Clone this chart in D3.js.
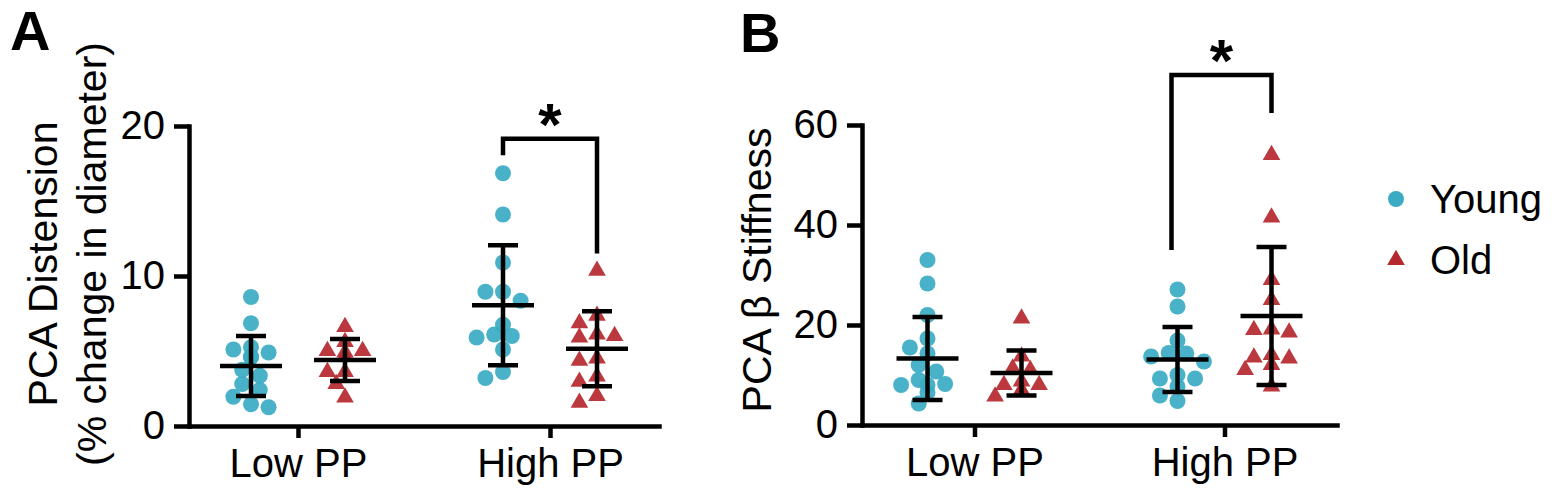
<!DOCTYPE html>
<html>
<head>
<meta charset="utf-8">
<script src="https://cdn.jsdelivr.net/npm/d3@7"></script>
<style>
  body { margin: 0; background: #fff; }
  text { font-family: "Liberation Sans", Arial, sans-serif; fill: #000; }
</style>
</head>
<body>
<div id="wrapper"></div>
<script>
// categories and groups
const categories = ["Low PP", "High PP"];
const groups = ["Young", "Old"];

// panel A: PCA distension (% change in diameter)
const distYoungLow = [8.6, 6.85, 5.25, 5.1, 4.9, 4.6, 4.6, 3.75, 3.35, 2.8, 2.4, 1.95, 1.45, 1.25];
const distOldLow = [6.6, 5.6, 5.0, 5.0, 4.9, 4.6, 3.6, 3.6, 2.8, 1.9];
const distYoungHigh = [16.85, 14.1, 10.9, 8.95, 8.95, 8.35, 6.75, 6.1, 6.0, 5.9, 5.1, 3.6, 3.2];
const distOldHigh = [10.35, 7.35, 6.85, 6.1, 6.0, 5.9, 4.5, 4.35, 3.3, 2.95, 2.0, 1.55];
const distMean = [4.0, 4.4, 8.05, 5.15];   // YL, OL, YH, OH
const distSD = [2.0, 1.4, 4.0, 2.5];
const distTicks = [0, 10, 20];

// panel B: PCA beta stiffness
const stiffYoungLow = [33, 28.3, 22, 17.3, 15.5, 14.3, 12, 10.7, 9, 8.2, 8, 8, 6.5, 4.3];
const stiffOldLow = [21.3, 13.7, 11.3, 11, 8.7, 8, 8, 7, 6.7, 5.7];
const stiffYoungHigh = [27.1, 23.7, 16.9, 14.4, 14.3, 13.7, 12.7, 10, 9.3, 9.3, 7.7, 5.9, 4.8];
const stiffOldHigh = [54, 41.5, 29, 25, 19.1, 19, 18.5, 14, 13.5, 13.3, 12, 11, 7.7];
const stiffMean = [13.3, 10.4, 13.1, 21.8];
const stiffSD = [8.3, 4.5, 6.5, 13.8];
const stiffTicks = [0, 20, 40, 60];

// significance brackets: [top, left end, right end]
const distBracket = [19.15, 18.05, 11.5];
const stiffBracket = [70, 35, 62.4];

const colors = {Young: "#3aabc3", Old: "#b5282e"};
const fontSize = 40;

const svg = d3.select("#wrapper").append("svg")
  .attr("width", 1552)
  .attr("height", 497);

const panels = [
  {
    letter: "A", letterX: 10, letterY: 50,
    xRange: [189, 659], padding: 0.4325,
    yDomain: [0, 20], yRange: [426, 126], ticks: distTicks,
    series: [distYoungLow, distOldLow, distYoungHigh, distOldHigh],
    mean: distMean, sd: distSD, bracket: distBracket, starY: 145, bracketShift: 0,
    labels: [{text: "PCA Distension", x: 57, y: 264}, {text: "(% change in diameter)", x: 106, y: 254}]
  },
  {
    letter: "B", letterX: 740, letterY: 52,
    xRange: [862, 1337], padding: 0.45,
    yDomain: [0, 60], yRange: [425, 125], ticks: stiffTicks,
    series: [stiffYoungLow, stiffOldLow, stiffYoungHigh, stiffOldHigh],
    mean: stiffMean, sd: stiffSD, bracket: stiffBracket, starY: 81, bracketShift: -6,
    labels: [{text: "PCA β Stiffness", x: 771, y: 270}]
  }
];

const r = 8;
const groupOffset = 47;

// simple beeswarm: returns x offsets for each value
function swarm(values, yScale) {
  const placed = [];
  const order = values.map((v, i) => ({v, i})).sort((a, b) => b.v - a.v);
  const out = new Array(values.length).fill(0);
  order.forEach(p => {
    const py = yScale(p.v);
    let off = 0;
    for (let s = 0; s < 7; s++) {
      const cand = s === 0 ? 0 : (s % 2 ? -1 : 1) * Math.ceil(s / 2) * r * 1.1;
      if (placed.every(q => Math.hypot(q.dx - cand, q.py - py) >= 2 * r * 0.8)) { off = cand; break; }
    }
    placed.push({dx: off, py});
    out[p.i] = off;
  });
  return out;
}

panels.forEach(p => {
  const g = svg.append("g");
  const xScale = d3.scalePoint().domain(categories).range(p.xRange).padding(p.padding);
  const yScale = d3.scaleLinear().domain(p.yDomain).range(p.yRange);

  const colX = (ci, gi) => xScale(categories[ci]) + (gi === 0 ? -groupOffset : groupOffset);

  // points
  p.series.forEach((vals, k) => {
    const ci = Math.floor(k / 2), gi = k % 2;
    const offs = swarm(vals, yScale);
    const cx = colX(ci, gi);
    if (gi === 0) {
      g.selectAll(null).data(vals).enter().append("circle")
        .attr("cx", (d, i) => cx + offs[i])
        .attr("cy", d => yScale(d))
        .attr("r", r)
        .attr("fill", colors.Young)
        .attr("fill-opacity", 0.92);
    } else {
      g.selectAll(null).data(vals).enter().append("path")
        .attr("d", d3.symbol().type(d3.symbolTriangle).size(135))
        .attr("transform", (d, i) => `translate(${cx + offs[i]},${yScale(d)})`)
        .attr("fill", colors.Old)
        .attr("fill-opacity", 0.92);
    }
  });

  // mean and SD
  p.mean.forEach((m, k) => {
    const ci = Math.floor(k / 2), gi = k % 2;
    const cx = colX(ci, gi);
    const lo = yScale(m - p.sd[k]), hi = yScale(m + p.sd[k]);
    const eg = g.append("g").attr("stroke", "#000").attr("stroke-width", 4.5);
    eg.append("line").attr("x1", cx).attr("x2", cx).attr("y1", lo).attr("y2", hi);
    eg.append("line").attr("x1", cx - 31).attr("x2", cx + 31).attr("y1", yScale(m)).attr("y2", yScale(m));
    eg.append("line").attr("x1", cx - 15).attr("x2", cx + 15).attr("y1", lo).attr("y2", lo);
    eg.append("line").attr("x1", cx - 15).attr("x2", cx + 15).attr("y1", hi).attr("y2", hi);
  });

  // significance bracket
  const bx1 = colX(1, 0) + p.bracketShift, bx2 = colX(1, 1);
  g.append("path")
    .attr("d", `M${bx1},${yScale(p.bracket[1])}V${yScale(p.bracket[0])}H${bx2}V${yScale(p.bracket[2])}`)
    .attr("fill", "none")
    .attr("stroke", "#000")
    .attr("stroke-width", 4.5);
  g.append("text")
    .attr("x", (bx1 + bx2) / 2)
    .attr("y", p.starY)
    .attr("text-anchor", "middle")
    .style("font-size", "60px")
    .style("font-weight", "bold")
    .text("*");

  // axes
  const yAxis = g.append("g")
    .attr("transform", `translate(${p.xRange[0]},0)`)
    .call(d3.axisLeft(yScale).tickValues(p.ticks).tickSize(15).tickSizeOuter(0).tickPadding(9));
  const xAxis = g.append("g")
    .attr("transform", `translate(0,${p.yRange[0]})`)
    .call(d3.axisBottom(xScale).tickSize(12).tickSizeOuter(0).tickPadding(11));
  [xAxis, yAxis].forEach(ax => {
    ax.select(".domain").attr("stroke-width", 4.5).attr("stroke-linecap", "square");
    ax.selectAll(".tick line").attr("stroke-width", 4.5);
    ax.selectAll("text").style("font-size", fontSize + "px").attr("fill", "#000");
  });

  // axis title
  p.labels.forEach(l => {
    g.append("text")
      .attr("transform", `translate(${l.x},${l.y}) rotate(-90)`)
      .attr("text-anchor", "middle")
      .style("font-size", "41px")
      .text(l.text);
  });

  // panel letter
  g.append("text")
    .attr("x", p.letterX)
    .attr("y", p.letterY)
    .style("font-size", "56px")
    .style("font-weight", "bold")
    .text(p.letter);
});

// legend
const legend = svg.append("g").attr("transform", "translate(1396,0)");
groups.forEach((name, i) => {
  const ly = 199 + i * 61;
  if (i === 0) {
    legend.append("circle").attr("cx", 0).attr("cy", ly).attr("r", r).attr("fill", colors.Young);
  } else {
    legend.append("path")
      .attr("d", d3.symbol().type(d3.symbolTriangle).size(135))
      .attr("transform", `translate(0,${ly})`)
      .attr("fill", colors.Old);
  }
  legend.append("text")
    .attr("x", 34)
    .attr("y", ly + 14)
    .style("font-size", fontSize + "px")
    .text(name);
});
</script>
</body>
</html>
